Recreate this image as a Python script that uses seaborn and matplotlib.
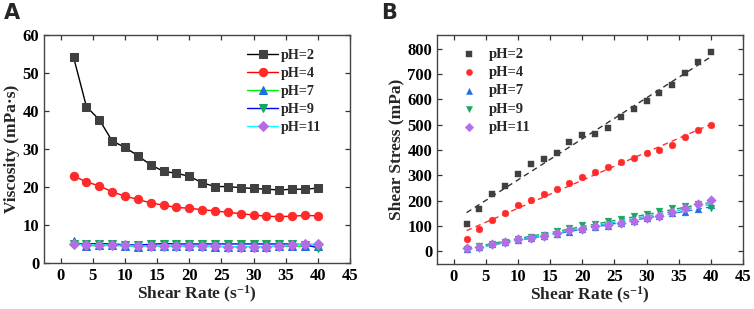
import numpy as np
import pandas as pd
import matplotlib
matplotlib.use("Agg")
import matplotlib.pyplot as plt
import seaborn as sns

# ---------------- data ----------------
shear_rate = [2, 4, 6, 8, 10, 12, 14, 16, 18, 20, 22, 24, 26, 28, 30, 32, 34, 36, 38, 40]
labels = ["pH=2", "pH=4", "pH=7", "pH=9", "pH=11"]

visc_ph2 = [54.1, 41.1, 37.7, 32.1, 30.4, 28.2, 25.8, 24.1, 23.6, 22.8, 21.1, 20.1, 20.1, 19.8, 19.6, 19.4, 19.2, 19.4, 19.4, 19.7]
visc_ph4 = [22.9, 21.3, 20.3, 18.7, 17.6, 16.7, 15.8, 15.2, 14.6, 14.4, 14.0, 13.7, 13.3, 13.0, 12.6, 12.3, 12.2, 12.3, 12.5, 12.4]
visc_ph7 = [5.7, 4.5, 4.6, 4.6, 4.5, 4.3, 4.5, 4.4, 4.4, 4.5, 4.4, 4.3, 4.3, 4.3, 4.3, 4.3, 4.4, 4.4, 4.4, 4.4]
visc_ph9 = [5.0, 5.0, 5.1, 5.0, 4.8, 4.7, 4.9, 5.1, 5.0, 5.0, 5.0, 5.0, 5.0, 5.0, 5.0, 5.0, 5.0, 5.0, 4.8, 4.0]
visc_ph11 = [5.0, 4.7, 4.8, 4.7, 4.6, 4.4, 4.5, 4.5, 4.4, 4.5, 4.5, 4.4, 4.3, 4.2, 4.3, 4.3, 4.5, 4.7, 4.9, 5.0]

stress_ph2 = [109, 167, 228, 259, 307, 343, 363, 388, 430, 458, 463, 488, 529, 564, 592, 625, 658, 703, 746, 789]
stress_ph4 = [49, 86, 124, 153, 182, 203, 225, 247, 268, 292, 313, 334, 351, 370, 387, 400, 420, 451, 480, 499]
stress_ph7 = [8, 17, 27, 35, 44, 52, 60, 68, 78, 87, 95, 100, 110, 120, 130, 140, 150, 155, 168, 183]
stress_ph9 = [10, 20, 30, 38, 48, 56, 65, 80, 92, 102, 108, 118, 128, 138, 148, 158, 170, 180, 185, 172]
stress_ph11 = [12, 18, 27, 37, 47, 53, 62, 72, 82, 88, 98, 105, 112, 120, 130, 138, 155, 170, 188, 202]

x_ticks = [0, 5, 10, 15, 20, 25, 30, 35, 40, 45]
visc_ticks = [0, 10, 20, 30, 40, 50, 60]
stress_ticks = [0, 100, 200, 300, 400, 500, 600, 700, 800]

# ---------------- styles ----------------
markers = ["s", "o", "^", "v", "D"]
marker_colors = ["#404040", "#ff2b2b", "#1f6fe0", "#16a85a", "#b36ee6"]
line_colors_a = ["#000000", "#ff0000", "#00ee00", "#0000ff", "#00ffff"]
fit_colors_b = ["#333333", "#ff3030", "#1a7fe0", "#16a85a", "#00d0ff"]
marker_sizes = [5.5, 6, 6, 6, 5.5]

sns.set_style("ticks")
plt.rcParams["font.family"] = ["Liberation Serif", "DejaVu Serif"]
plt.rcParams["font.weight"] = "bold"
plt.rcParams["mathtext.fontset"] = "custom"
plt.rcParams["mathtext.rm"] = "Liberation Serif:bold"
plt.rcParams["mathtext.bf"] = "Liberation Serif:bold"
plt.rcParams["mathtext.default"] = "rm"

fig = plt.figure(figsize=(7.54, 3.09), dpi=100)
axA = fig.add_axes([0.0584, 0.149, 0.4058, 0.738])
axB = fig.add_axes([0.5796, 0.146, 0.4058, 0.741])

visc = [visc_ph2, visc_ph4, visc_ph7, visc_ph9, visc_ph11]
stress = [stress_ph2, stress_ph4, stress_ph7, stress_ph9, stress_ph11]

# ---- Panel A ----
for i in range(5):
    df = pd.DataFrame({"x": shear_rate, "y": visc[i]})
    sns.lineplot(data=df, x="x", y="y", ax=axA, color=line_colors_a[i], lw=1.0,
                 marker=markers[i], markersize=marker_sizes[i],
                 markerfacecolor=marker_colors[i], markeredgecolor=marker_colors[i],
                 label=labels[i], zorder=3 + i)

axA.set_xlim(-2.6, 45)
axA.set_ylim(0, 60)
axA.set_xticks(x_ticks)
axA.set_yticks(visc_ticks)
axA.set_xlabel("Shear Rate (s$^{-1}$)", fontsize=12.5, fontweight="bold", labelpad=0)
axA.set_ylabel("Viscosity (mPa·s)", fontsize=12.5, fontweight="bold", labelpad=2)
legA = axA.legend(loc="upper right", bbox_to_anchor=(0.925, 0.965), frameon=False,
                  fontsize=10.2, handlelength=2.2, handletextpad=0.2, labelspacing=0.36,
                  borderaxespad=0.0)

# ---- Panel B ----
for i in range(5):
    df = pd.DataFrame({"x": shear_rate, "y": stress[i]})
    sns.regplot(data=df, x="x", y="y", ax=axB, scatter=False, ci=None, truncate=True,
                line_kws=dict(color=fit_colors_b[i], lw=1.0, ls=(0, (4, 3)), zorder=2))
    sns.scatterplot(data=df, x="x", y="y", ax=axB, marker=markers[i],
                    color=marker_colors[i], edgecolor=marker_colors[i], linewidth=0.3,
                    s=24, label=labels[i], zorder=3 + i)

axB.set_xlim(-2.6, 45)
axB.set_ylim(-50, 855)
axB.set_xticks(x_ticks)
axB.set_yticks(stress_ticks)
axB.set_xlabel("Shear Rate (s$^{-1}$)", fontsize=12.5, fontweight="bold", labelpad=0)
axB.set_ylabel("Shear Stress (mPa)", fontsize=12.5, fontweight="bold", labelpad=2)
legB = axB.legend(loc="upper left", bbox_to_anchor=(0.062, 0.97), frameon=False,
                  fontsize=10.5, handlelength=1.0, handletextpad=0.87, labelspacing=0.35,
                  borderaxespad=0.0, markerscale=0.9)

for ax in (axA, axB):
    ax.tick_params(direction="in", length=3.5, width=0.9, top=True, right=True,
                   labelsize=12, colors="#333333", labelcolor="black", pad=3.5)
    for lab in ax.get_xticklabels() + ax.get_yticklabels():
        lab.set_fontweight("bold")
    for s in ax.spines.values():
        s.set_visible(True)
        s.set_color("#444444")
        s.set_linewidth(1.0)

fig.text(0.005, 0.99, "A", fontsize=15, fontweight="bold", family="DejaVu Sans", va="top", ha="left")
fig.text(0.505, 0.99, "B", fontsize=15, fontweight="bold", family="DejaVu Sans", va="top", ha="left")

fig.savefig("out.png", dpi=100)
